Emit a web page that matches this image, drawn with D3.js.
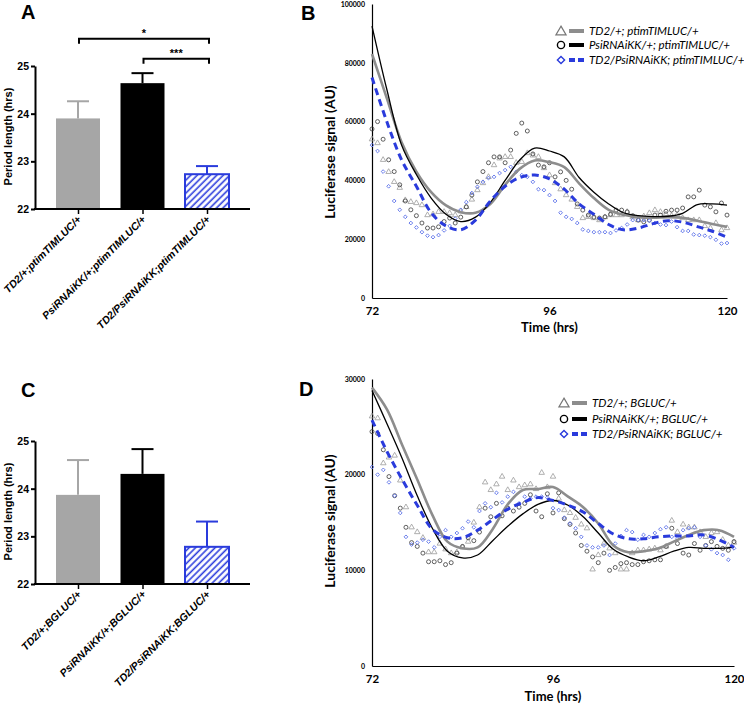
<!DOCTYPE html>
<html><head><meta charset="utf-8">
<script src="https://cdn.jsdelivr.net/npm/d3@7"></script>
<style>body{margin:0;background:#fff} svg{display:block}</style>
</head><body>
<svg id="fig" width="744" height="707"></svg>
<script>
// ---------- Bar panels (A, C) ----------
const barCategoriesA = ["TD2/+;ptimTIMLUC/+", "PsiRNAiKK/+;ptimTIMLUC/+", "TD2/PsiRNAiKK;ptimTIMLUC/+"];
const barMeansA = [23.9, 24.64, 22.73];
const barErrTopA = [24.26, 24.85, 22.9];
const barCategoriesC = ["TD2/+;BGLUC/+", "PsiRNAiKK/+;BGLUC/+", "TD2/PsiRNAiKK;BGLUC/+"];
const barMeansC = [23.87, 24.31, 22.78];
const barErrTopC = [24.6, 24.83, 23.31];
const periodTicks = [22, 23, 24, 25];
const sigBracketsA = [
  {from: 0, to: 2, label: "*", level: 25.57},
  {from: 1, to: 2, label: "***", level: 25.15}
];

// ---------- Luciferase panels (B, D) ----------
const seriesNamesB = ["TD2/+; ptimTIMLUC/+", "PsiRNAiKK/+; ptimTIMLUC/+", "TD2/PsiRNAiKK; ptimTIMLUC/+"];
const seriesNamesD = ["TD2/+; BGLUC/+", "PsiRNAiKK/+; BGLUC/+", "TD2/PsiRNAiKK; BGLUC/+"];
const timeTicks = [72, 96, 120];
const yTicksB = [0, 20000, 40000, 60000, 80000, 100000];
const yTicksD = [0, 10000, 20000, 30000];

// smoothed curves, sampled every 2 h from 72 h to 120 h (values in thousands)
const lineTimes = d3.range(72, 120.001, 2);
const lineGrayB  = [83, 68, 53, 43, 36, 31.5, 29.2, 29, 32, 38.5, 44, 46.8, 46.2, 44.5, 39, 34, 30, 28.3, 27.5, 27.3, 27.5, 27.3, 26.3, 25.2, 24.2];
const lineBlackB = [92.5, 71, 52, 42, 34, 28.5, 26, 27.5, 32.5, 40, 47, 51, 50, 48, 41, 36, 32, 29, 28, 27.7, 27.8, 28.8, 31.8, 32, 31.6];
const lineBlueB  = [75, 60, 47, 38, 29, 24.5, 23.2, 26.5, 33, 38, 41, 41.8, 40.5, 37, 32, 28.5, 25, 23.2, 23.8, 25.3, 26.3, 25.8, 24.3, 22.7, 20.7];
const lineGrayD  = [29.1, 26.8, 23.1, 19.5, 15.8, 13.0, 12.3, 12.4, 14.3, 16.9, 18.4, 18.5, 18.7, 17.7, 16.6, 14.9, 12.6, 11.9, 12, 12.3, 13, 13.7, 14.2, 14.2, 13.5];
const lineBlackD = [28.8, 25.3, 21.7, 17.8, 14.4, 12.0, 11.3, 11.6, 13.1, 14.6, 15.9, 16.9, 17.3, 16.8, 15.6, 13.9, 12.2, 11.4, 11.0, 11.4, 12.0, 12.4, 12.3, 12.3, 12.4];
const lineBlueD  = [25.7, 22.4, 19.5, 16.8, 14.3, 13.4, 13.4, 14.2, 15.3, 16.4, 17.1, 17.6, 17.3, 16.8, 16.1, 14.9, 13.8, 13.3, 13.3, 13.5, 13.6, 13.6, 13.7, 13.2, 12.4];

// raw readings, sampled every 0.75 h from 72 h to 120 h (values in thousands)
const pointTimes = d3.range(72, 120.001, 0.75);
const ptsGrayB = [54, 52.7, 47, 42.9, 39.5, 37.5, 33.3, 32.7, 32.3, 31.6,
  28.2, 28.5, 29.3, 29.3, 28.9, 28.2, 29.5, 31, 33.5, 36.7,
  39.1, 41.2, 45.2, 47.5, 48, 48, 46, 46.3, 49.3, 48.5,
  48, 44.2, 41.8, 39.1, 37, 35, 33.5, 31, 27.2, 27.6,
  27.2, 26.5, 27.5, 28.2, 28.2, 28.2, 29.3, 27.5, 26.5, 27.8,
  28.9, 29.9, 29.3, 28.5, 28, 28.2, 27.2, 26.5, 26.5, 26.5,
  24.5, 23.8, 25.5, 23.1, 23.8];
const ptsBlackB = [57.5, 60, 54, 47, 43, 38.5, 33, 30, 28, 25.5,
  23.8, 23.8, 24.2, 26, 27.2, 25.5, 27.5, 31, 35, 39.5,
  43, 46, 48, 48, 46, 50.3, 56, 59.5, 56.8, 49,
  45.2, 44.6, 46, 41.2, 42.9, 40, 37, 32, 29.9, 28.2,
  27.5, 27.2, 27.6, 28.5, 29.9, 29.9, 29.3, 28, 26.5, 25.9,
  26.5, 28.2, 28.2, 29.5, 29.9, 29.9, 30.6, 34.4, 34.4, 36.7,
  31.6, 31, 29.3, 32.3, 28.2];
const ptsBlueB = [52, 50, 43, 38, 33, 30, 27.6, 25.5, 24, 22.4,
  21.2, 20.7, 21.4, 23, 24.5, 27, 30, 32.6, 35.7, 37.8,
  39.5, 40.8, 41.2, 42.5, 43.5, 44.6, 42.9, 41.8, 41.2, 39.5,
  37, 36.7, 35, 33, 29, 27.6, 26.9, 25.5, 23.3, 22.8,
  22.4, 22.4, 22.4, 22.1, 23, 23.8, 25, 26.5, 26.5, 26.5,
  26.3, 25.5, 25, 24.8, 26, 24.1, 22.8, 22.8, 21.6, 21.4,
  21.2, 20.7, 19.8, 18.5, 18.7];
const ptsGrayD = [26.1, 25.9, 21.2, 21.8, 22, 19.4, 16.6, 14.5, 14, 13.4,
  11.9, 11.9, 12.8, 12.2, 11.8, 11.9, 12.4, 13, 15, 16.6,
  19.2, 18.4, 19, 19.8, 18.4, 19.4, 18.7, 18.9, 19, 18.5,
  20.2, 18.7, 19.8, 17.5, 16.3, 16, 15.5, 14.8, 14.4, 10.1,
  11.6, 12.8, 12.3, 11.8, 10.1, 10.1, 11.8, 12.1, 12.1, 12.2,
  12.3, 12.1, 12.5, 15.2, 14, 14.8, 14.5, 14.5, 14, 13.5,
  13.9, 14, 13.2, 12.6, 12.9];
const ptsBlackD = [24.5, 24.3, 22.6, 19.8, 17.8, 16.5, 14.5, 12.9, 12.5, 11.8,
  10.9, 10.9, 11, 10.6, 10.8, 11.8, 12.5, 13.4, 13.1, 14,
  16.5, 15.6, 17, 15.7, 16.5, 16.2, 16.6, 17, 17.9, 16.2,
  15.6, 18, 16, 18.1, 15.4, 14.8, 13.9, 12.6, 12, 11.4,
  10.8, 11.8, 10, 10.3, 10.7, 10.8, 10.6, 10.6, 10.9, 11,
  11.1, 11.1, 12.5, 14.4, 12.8, 11.8, 11.6, 12.8, 12.1, 12.6,
  13, 12.5, 12.3, 12.1, 13];
const ptsBlueD = [20.8, 20, 20.5, 19.2, 17.8, 16, 13.5, 12.7, 12.9, 13.2,
  13, 12.4, 13.5, 14.2, 13.5, 13.9, 14.4, 15.1, 14.5, 16.2,
  17, 16.6, 18.1, 17.1, 17.7, 18.2, 17, 17.7, 17.5, 17.7,
  17.7, 17.6, 16.5, 16.3, 15.5, 14.9, 14.4, 13.5, 12.6, 12.4,
  12.4, 12.6, 11.6, 12.8, 13.6, 14.2, 14, 13.2, 13.7, 13.5,
  13.9, 14.3, 14.5, 13.5, 13.3, 14.2, 14.4, 14.5, 13.5, 12.6,
  12.2, 11.8, 11.6, 11.1, 12.3];

// ---------- styles ----------
const COL_GRAY_BAR = "#a6a6a6";
const COL_BLUE = "#2a3bdc";
const COL_GRAY_LINE = "#8d8d8d";
const COL_GRAY_PT = "#9a9a9a";
const COL_BLACK_PT = "#3a3a3a";
const COL_BLUE_PT = "#6478ea";
const ARIAL = "'Liberation Sans', Arial, sans-serif";
const CAL = "Lato, 'Open Sans', sans-serif";

const svg = d3.select("#fig");
const defs = svg.append("defs");
const pat = defs.append("pattern").attr("id", "hatch").attr("patternUnits", "userSpaceOnUse")
  .attr("width", 4.6).attr("height", 4.6).attr("patternTransform", "rotate(45)");
pat.append("rect").attr("width", 4.6).attr("height", 4.6).attr("fill", "#fff");
pat.append("line").attr("x1", 1.2).attr("x2", 1.2).attr("y1", 0).attr("y2", 4.6)
  .attr("stroke", COL_BLUE).attr("stroke-width", 1.6);

function panelLetter(x, y, t) {
  svg.append("text").attr("x", x).attr("y", y).text(t)
    .attr("font-family", ARIAL).attr("font-weight", "bold").attr("font-size", 20).attr("fill", "#000");
}

function drawBars(cats, means, errs, yTop, yBot, brackets) {
  const axisX = 35, axisRight = 250;
  const y = d3.scaleLinear().domain([22, 25]).range([yBot, yTop]);
  const x = d3.scalePoint().domain(cats).range([78, 207]);
  const bw = 44;
  const fills = [COL_GRAY_BAR, "#000", "url(#hatch)"];
  const strokes = [COL_GRAY_BAR, "#000", COL_BLUE];
  const g = svg.append("g");
  // error bars
  cats.forEach((c, i) => {
    const cx = x(c);
    g.append("line").attr("x1", cx).attr("x2", cx).attr("y1", y(means[i])).attr("y2", y(errs[i]))
      .attr("stroke", strokes[i]).attr("stroke-width", 2);
    g.append("line").attr("x1", cx - 11).attr("x2", cx + 11).attr("y1", y(errs[i])).attr("y2", y(errs[i]))
      .attr("stroke", strokes[i]).attr("stroke-width", 2);
  });
  // bars
  g.selectAll("rect.bar").data(cats).join("rect").attr("class", "bar")
    .attr("x", d => x(d) - bw / 2).attr("width", bw)
    .attr("y", (d, i) => y(means[i])).attr("height", (d, i) => y(22) - y(means[i]))
    .attr("fill", (d, i) => fills[i])
    .attr("stroke", (d, i) => i === 2 ? COL_BLUE : "none")
    .attr("stroke-width", 2);
  // y axis
  const ya = g.append("g").attr("transform", `translate(${axisX},0)`)
    .call(d3.axisLeft(y).tickValues(periodTicks).tickFormat(d3.format("d")).tickSize(4).tickSizeOuter(0));
  ya.select(".domain").attr("stroke-width", 2);
  ya.selectAll(".tick line").attr("stroke-width", 2);
  ya.selectAll("text").attr("font-family", ARIAL).attr("font-weight", "bold").attr("font-size", 10.5).attr("dx", 1);
  // x axis
  g.append("line").attr("x1", axisX - 1).attr("x2", axisRight).attr("y1", y(22)).attr("y2", y(22))
    .attr("stroke", "#000").attr("stroke-width", 2);
  const xa = g.append("g").attr("transform", `translate(0,${y(22)})`)
    .call(d3.axisBottom(x).tickSize(5).tickFormat(""));
  xa.select(".domain").remove();
  xa.selectAll(".tick line").attr("stroke-width", 1.5);
  cats.forEach(c => {
    g.append("text").attr("transform", `translate(${x(c) + 4},${y(22) + 11}) rotate(-45)`)
      .attr("text-anchor", "end").text(c)
      .attr("font-family", ARIAL).attr("font-weight", "bold").attr("font-style", "italic").attr("font-size", 10.6);
  });
  // y label
  g.append("text").attr("transform", `translate(12,${(y(22) + y(25)) / 2 - 1}) rotate(-90)`)
    .attr("text-anchor", "middle").text("Period length (hrs)")
    .attr("font-family", ARIAL).attr("font-weight", "bold").attr("font-size", 11);
  // significance
  (brackets || []).forEach(b => {
    const x1 = x(cats[b.from]) + 1, x2 = x(cats[b.to]) + 2, yy = y(b.level);
    g.append("path").attr("d", `M${x1},${yy + 5}V${yy}H${x2}V${yy + 5}`)
      .attr("fill", "none").attr("stroke", "#000").attr("stroke-width", 2);
    g.append("text").attr("x", (x1 + x2) / 2).attr("y", yy - 2).attr("text-anchor", "middle").text(b.label)
      .attr("font-family", ARIAL).attr("font-weight", "bold").attr("font-size", 11);
  });
}

function drawLum(cfg) {
  const x = d3.scaleLinear().domain([72, 120]).range([372, cfg.xRight]);
  const y = d3.scaleLinear().domain([0, cfg.yMax]).range([cfg.yBot, cfg.yTop]);
  const g = svg.append("g");
  const ya = g.append("g").attr("transform", "translate(372,0)")
    .call(d3.axisLeft(y).tickValues(cfg.yTicks).tickFormat(d3.format("d")).tickSize(0).tickPadding(7));
  ya.select(".domain").attr("stroke-width", 1.2);
  ya.selectAll("text").attr("font-family", CAL).attr("font-weight", "bold").attr("font-size", 7);
  const xa = g.append("g").attr("transform", `translate(0,${cfg.yBot})`)
    .call(d3.axisBottom(x).tickValues(timeTicks).tickFormat(d3.format("d")).tickSize(0).tickPadding(9));
  xa.select(".domain").attr("stroke-width", 1.2);
  xa.selectAll("text").attr("font-family", CAL).attr("font-weight", "bold").attr("font-size", 11.5);
  g.append("text").attr("x", (372 + cfg.xRight) / 2).attr("y", cfg.yBot + cfg.timeDy).attr("text-anchor", "middle")
    .text("Time (hrs)").attr("font-family", CAL).attr("font-weight", "bold").attr("font-size", 13);
  g.append("text").attr("transform", `translate(335,${cfg.yLabelMid}) rotate(-90)`).attr("text-anchor", "middle")
    .text("Luciferase signal (AU)").attr("font-family", CAL).attr("font-weight", "bold").attr("font-size", 14);

  const k = 1000;
  const tri = d3.symbol(d3.symbolTriangle, 13)();
  const sq = d3.symbol(d3.symbolSquare, 7)();
  // points
  g.append("g").selectAll("path").data(cfg.ptsGray).join("path")
    .attr("d", tri).attr("transform", (d, i) => `translate(${x(pointTimes[i])},${y(d * k)})`)
    .attr("fill", "none").attr("stroke", COL_GRAY_PT).attr("stroke-width", 0.8);
  g.append("g").selectAll("circle").data(cfg.ptsBlack).join("circle")
    .attr("cx", (d, i) => x(pointTimes[i])).attr("cy", d => y(d * k)).attr("r", 2)
    .attr("fill", "none").attr("stroke", COL_BLACK_PT).attr("stroke-width", 0.8);
  g.append("g").selectAll("path").data(cfg.ptsBlue).join("path")
    .attr("d", sq).attr("transform", (d, i) => `translate(${x(pointTimes[i])},${y(d * k)}) rotate(45)`)
    .attr("fill", "none").attr("stroke", COL_BLUE_PT).attr("stroke-width", 0.9);
  // lines
  const line = d3.line().x((d, i) => x(lineTimes[i])).y(d => y(d * k)).curve(d3.curveCatmullRom.alpha(0.5));
  g.append("path").attr("d", line(cfg.lineGray)).attr("fill", "none").attr("stroke", COL_GRAY_LINE).attr("stroke-width", 2.6);
  g.append("path").attr("d", line(cfg.lineBlack)).attr("fill", "none").attr("stroke", "#000").attr("stroke-width", 1.3);
  g.append("path").attr("d", line(cfg.lineBlue)).attr("fill", "none").attr("stroke", COL_BLUE).attr("stroke-width", 3)
    .attr("stroke-dasharray", "7,4.5");
  // legend
  const lg = g.append("g");
  cfg.names.forEach((n, i) => {
    const yy = cfg.legendY[i];
    const mx = cfg.legendX;
    if (i === 0) lg.append("path").attr("d", d3.symbol(d3.symbolTriangle, 45)()).attr("transform", `translate(${mx},${yy + 1})`)
      .attr("fill", "none").attr("stroke", "#777").attr("stroke-width", 1.2);
    if (i === 1) lg.append("circle").attr("cx", mx).attr("cy", yy).attr("r", 3.6)
      .attr("fill", "none").attr("stroke", "#000").attr("stroke-width", 1.4);
    if (i === 2) lg.append("path").attr("d", d3.symbol(d3.symbolSquare, 26)()).attr("transform", `translate(${mx},${yy}) rotate(45)`)
      .attr("fill", "none").attr("stroke", COL_BLUE).attr("stroke-width", 1.4);
    const lc = [COL_GRAY_LINE, "#000", COL_BLUE][i];
    lg.append("line").attr("x1", mx + 8).attr("x2", mx + 23).attr("y1", yy).attr("y2", yy)
      .attr("stroke", lc).attr("stroke-width", 4).attr("stroke-dasharray", i === 2 ? "6,3" : null);
    lg.append("text").attr("x", mx + 28).attr("y", yy + 4).text(n)
      .attr("font-family", CAL).attr("font-style", "italic").attr("font-size", 11.5).attr("fill", "#000");
  });
}

panelLetter(21, 19, "A");
panelLetter(301, 20, "B");
panelLetter(21, 397, "C");
panelLetter(299, 396, "D");

drawBars(barCategoriesA, barMeansA, barErrTopA, 66, 209, sigBracketsA);
drawBars(barCategoriesC, barMeansC, barErrTopC, 441, 584, []);

drawLum({xRight: 727, yTop: 4, yBot: 298, yMax: 100000, yTicks: yTicksB, yLabelMid: 152, timeDy: 34,
  lineGray: lineGrayB, lineBlack: lineBlackB, lineBlue: lineBlueB,
  ptsGray: ptsGrayB, ptsBlack: ptsBlackB, ptsBlue: ptsBlueB,
  names: seriesNamesB, legendX: 561, legendY: [31, 45, 60]});
drawLum({xRight: 734, yTop: 379, yBot: 666, yMax: 30000, yTicks: yTicksD, yLabelMid: 521, timeDy: 35,
  lineGray: lineGrayD, lineBlack: lineBlackD, lineBlue: lineBlueD,
  ptsGray: ptsGrayD, ptsBlack: ptsBlackD, ptsBlue: ptsBlueD,
  names: seriesNamesD, legendX: 564, legendY: [403, 419, 434]});
</script>
</body></html>
